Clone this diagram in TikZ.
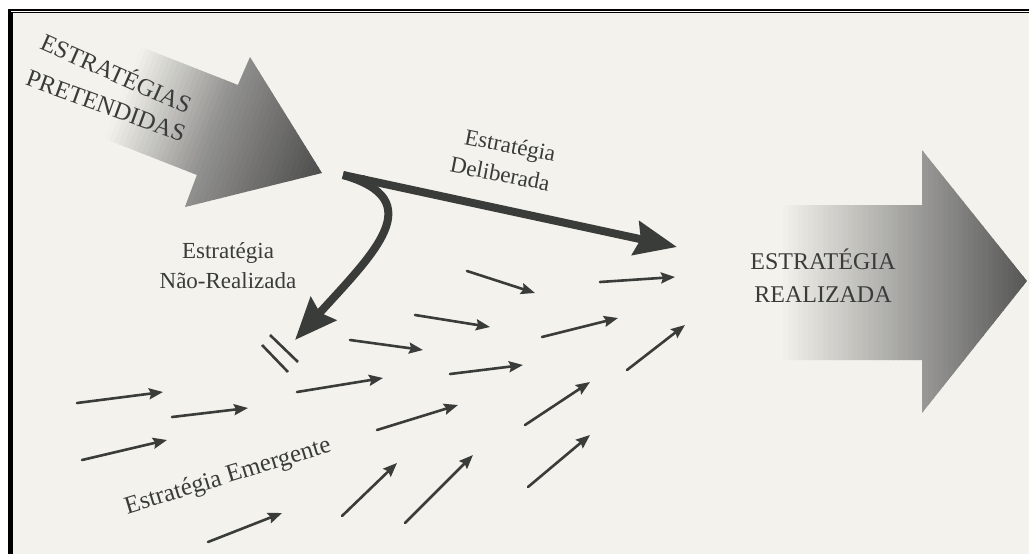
\documentclass[tikz,border=0pt]{standalone}
\usepackage{fontspec}
\setmainfont{Liberation Serif}
\usetikzlibrary{arrows.meta}

\definecolor{paper}{RGB}{243,242,236}
\definecolor{ink}{RGB}{58,60,58}
\definecolor{inkdark}{RGB}{78,78,78}

\tikzset{
  caption/.style={text=ink, inner sep=0pt, align=center,
    font=\fontsize{23}{30}\selectfont},
  capsword/.style={text=ink, inner sep=0pt,
    font=\fontsize{24.5}{28}\selectfont},
  flow/.style={draw=ink, line width=2.6pt, line cap=round,
    -{Stealth[length=14pt,width=11pt,inset=2pt]}},
  boldflow/.style={draw=ink, line width=8pt,
    -{Stealth[length=42pt,width=34pt,inset=5pt]}},
  cutmark/.style={draw=ink, line width=2.6pt},
}

\begin{document}
\begin{tikzpicture}[x=1pt,y=-1pt]
\useasboundingbox (0,0) rectangle (1029,554);
\fill[white] (0,0) rectangle (1029,554);

% page and its double frame
\fill[paper] (11,12) rectangle (1040,570);
\draw[line width=2.6pt] (9.5,10) rectangle (1045,575);
\draw[line width=1.3pt] (12,12.8) rectangle (1045,575);

% intended strategies: broad arrow fading in towards its head
\begin{scope}
  \clip (70,19) -- (238,85) -- (250,57) -- (322,173) -- (185,207)
        -- (197,175) -- (29,109) -- cycle;
  \begin{scope}[shift={(322,173)}, rotate=-21.5]
    \foreach \k in {0,...,63} {
      \pgfmathsetmacro{\p}{(5*\k<112) ? (100-0.36*5*\k) : max(0, 60-0.6*(5*\k-112))}
      \fill[inkdark!\p!paper] (-5*\k-5.6, -150) rectangle (-5*\k+0.2, 150);
    }
  \end{scope}
\end{scope}

% realized strategy: broad arrow darkening towards its tip
\begin{scope}
  \clip (770,205) -- (922,205) -- (922,150) -- (1027,281) -- (922,413)
        -- (922,360) -- (770,360) -- cycle;
  \foreach \k in {0,...,52} {
    \pgfmathsetmacro{\p}{max(0, min(100, (5*\k-10)/2.6))}
    \fill[inkdark!\p!paper] (768+5*\k, 140) rectangle (773.6+5*\k, 420);
  }
\end{scope}

% captions
\node[capsword, rotate=-24] (intended1) at (117,72) {ESTRATÉGIAS};
\node[capsword, rotate=-20] (intended2) at (106,106) {PRETENDIDAS};
\node[caption, rotate=-11, align=right] (deliberate) at (503,159) {Estratégia\\Deliberada};
\node[caption] (unrealized) at (228,266) {Estratégia\\Não-Realizada};
\node[caption, rotate=17, font=\fontsize{25}{28}\selectfont] (emergent) at (228,477) {Estratégia Emergente};
\node[caption, font=\fontsize{24}{33}\selectfont] (realized) at (823,276) {ESTRATÉGIA\\REALIZADA};

% deliberate and unrealized paths leaving the intended strategy
\coordinate (split) at (343,175);
\coordinate (deliberateEnd) at (677,247);
\coordinate (unrealizedEnd) at (295,340);
\fill[ink] (split) -- ++(22,0.5) -- ++(-4,8) -- cycle;
\draw[boldflow] (split) -- (deliberateEnd);
\draw[boldflow] (split) .. controls (430,200) and (375,252) .. (unrealizedEnd);

% the unrealized path is cut off
\coordinate (cutA1) at (270,335);
\coordinate (cutA2) at (298,362);
\coordinate (cutB1) at (262,345);
\coordinate (cutB2) at (288,372);
\draw[cutmark] (cutA1) -- (cutA2);
\draw[cutmark] (cutB1) -- (cutB2);

% emergent strategy: scattered small arrows
\foreach \n/\sx/\sy/\ex/\ey in {
    1/77/403/163/392, 2/172/417/248/408, 3/82/460/167/440,
    4/297/392/383/378, 5/208/542/282/513, 6/342/516/397/463,
    7/405/523/473/455, 8/377/430/458/405, 9/450/374/523/365,
    10/525/425/590/382, 11/528/487/590/435, 12/467/271/535/293,
    13/600/282/675/277, 14/415/315/490/327, 15/542/337/618/318,
    16/350/340/423/350, 17/627/370/685/325} {
  \coordinate (e\n a) at (\sx,\sy);
  \coordinate (e\n b) at (\ex,\ey);
  \draw[flow] (e\n a) -- (e\n b);
}
\end{tikzpicture}
\end{document}
